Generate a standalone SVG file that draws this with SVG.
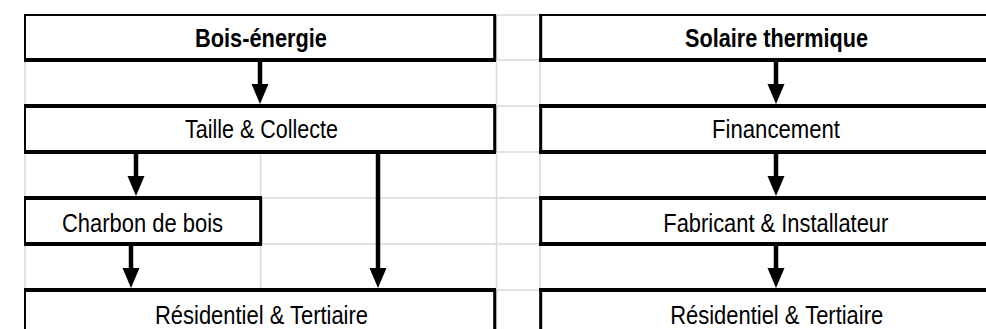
<svg xmlns="http://www.w3.org/2000/svg" width="986" height="329" viewBox="0 0 986 329">
  <style>
    .grid { stroke: #d9d9d9; stroke-width: 1.5; fill: none; }
    .bt { stroke: #000; stroke-width: 2; }
    .bh { stroke: #000; stroke-width: 4; }
    .bl { stroke: #000; stroke-width: 2; }
    .br { stroke: #000; stroke-width: 3; }
    .body { fill: #fff; stroke: none; }
    .t { font-family: "Liberation Sans", Arial, sans-serif; font-size: 26px; fill: #000; text-anchor: middle; }
    .b { font-weight: bold; }
    .conn line { stroke: #000; stroke-width: 4.5; }
  </style>
  <defs>
    <marker id="ah" markerUnits="userSpaceOnUse" markerWidth="22" markerHeight="18" viewBox="0 0 22 18" refX="12" refY="8.5" orient="auto">
      <path d="M0,0 L20,8.5 L0,17 Z" fill="#000"/>
    </marker>
  </defs>
  <rect width="986" height="329" fill="#fff"/>

  <g id="gridlines">
    <line class="grid" x1="495" y1="15" x2="540" y2="15"/>
    <line class="grid" x1="495" y1="60" x2="540" y2="60"/>
    <line class="grid" x1="495" y1="106" x2="540" y2="106"/>
    <line class="grid" x1="495" y1="152" x2="540" y2="152"/>
    <line class="grid" x1="260" y1="198" x2="540" y2="198"/>
    <line class="grid" x1="260" y1="244" x2="540" y2="244"/>
    <line class="grid" x1="495" y1="290" x2="540" y2="290"/>
    <line class="grid" x1="496.5" y1="15" x2="496.5" y2="329"/>
    <line class="grid" x1="540" y1="15" x2="540" y2="329"/>
    <line class="grid" x1="25" y1="15" x2="25" y2="329"/>
    <line class="grid" x1="260.5" y1="152" x2="260.5" y2="290"/>
  </g>

  <g id="bois-energie">
    <line class="bt" x1="24" y1="15" x2="496" y2="15"/>
    <line class="bh" x1="24" y1="60" x2="496" y2="60"/>
    <line class="bl" x1="25" y1="15" x2="25" y2="60"/>
    <line class="br" x1="494.7" y1="15" x2="494.7" y2="60"/>
    <text class="t b" x="261" y="47" textLength="132" lengthAdjust="spacingAndGlyphs">Bois-énergie</text>
  </g>
  <g id="taille-collecte">
    <line class="bh" x1="24" y1="106" x2="496" y2="106"/>
    <line class="bh" x1="24" y1="152" x2="496" y2="152"/>
    <line class="bl" x1="25" y1="106" x2="25" y2="152"/>
    <line class="br" x1="494.7" y1="106" x2="494.7" y2="152"/>
    <text class="t" x="261.5" y="138" textLength="153" lengthAdjust="spacingAndGlyphs">Taille &amp; Collecte</text>
  </g>
  <g id="charbon-de-bois">
    <line class="bh" x1="24" y1="198" x2="262" y2="198"/>
    <line class="bh" x1="24" y1="244" x2="262" y2="244"/>
    <line class="bl" x1="25" y1="198" x2="25" y2="244"/>
    <line class="br" x1="260.7" y1="198" x2="260.7" y2="244"/>
    <text class="t" x="142.5" y="231.5" textLength="161" lengthAdjust="spacingAndGlyphs">Charbon de bois</text>
  </g>
  <g id="residentiel-tertiaire-1">
    <line class="bh" x1="24" y1="290" x2="496" y2="290"/>
    <line class="bl" x1="25" y1="290" x2="25" y2="335"/>
    <line class="br" x1="494.7" y1="290" x2="494.7" y2="335"/>
    <text class="t" x="261.5" y="324" textLength="213" lengthAdjust="spacingAndGlyphs">Résidentiel &amp; Tertiaire</text>
  </g>

  <g id="solaire-thermique">
    <line class="bt" x1="539" y1="15" x2="990" y2="15"/>
    <line class="bh" x1="539" y1="60" x2="990" y2="60"/>
    <line class="br" x1="540.7" y1="15" x2="540.7" y2="60"/>
    <text class="t b" x="776.5" y="47" textLength="183" lengthAdjust="spacingAndGlyphs">Solaire thermique</text>
  </g>
  <g id="financement">
    <line class="bh" x1="539" y1="106" x2="990" y2="106"/>
    <line class="bh" x1="539" y1="152" x2="990" y2="152"/>
    <line class="br" x1="540.7" y1="106" x2="540.7" y2="152"/>
    <text class="t" x="776" y="138" textLength="128" lengthAdjust="spacingAndGlyphs">Financement</text>
  </g>
  <g id="fabricant-installateur">
    <line class="bh" x1="539" y1="198" x2="990" y2="198"/>
    <line class="bh" x1="539" y1="244" x2="990" y2="244"/>
    <line class="br" x1="540.7" y1="198" x2="540.7" y2="244"/>
    <text class="t" x="775.8" y="231.5" textLength="225" lengthAdjust="spacingAndGlyphs">Fabricant &amp; Installateur</text>
  </g>
  <g id="residentiel-tertiaire-2">
    <line class="bh" x1="539" y1="290" x2="990" y2="290"/>
    <line class="br" x1="540.7" y1="290" x2="540.7" y2="335"/>
    <text class="t" x="776.7" y="324" textLength="213" lengthAdjust="spacingAndGlyphs">Résidentiel &amp; Tertiaire</text>
  </g>

  <g id="connectors" class="conn">
    <line x1="260" y1="62" x2="260" y2="96" marker-end="url(#ah)"/>
    <line x1="136" y1="154" x2="136" y2="188" marker-end="url(#ah)"/>
    <line x1="131" y1="246" x2="131" y2="280" marker-end="url(#ah)"/>
    <line x1="378" y1="154" x2="378" y2="280" marker-end="url(#ah)"/>
    <line x1="776" y1="62" x2="776" y2="96" marker-end="url(#ah)"/>
    <line x1="776" y1="154" x2="776" y2="188" marker-end="url(#ah)"/>
    <line x1="776" y1="246" x2="776" y2="280" marker-end="url(#ah)"/>
  </g>
</svg>
